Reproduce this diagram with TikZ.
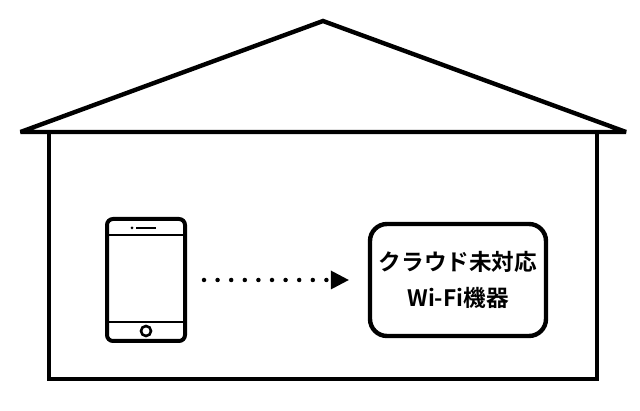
\documentclass[tikz,border=0pt]{standalone}
\usepackage{fontspec}
\newfontfamily\cjk{Noto Sans CJK JP}[BoldFont={* Bold}]
\usetikzlibrary{arrows.meta}
\tikzset{
	house/.style={line width=4.4pt, line join=miter, miter limit=4},
	phonebody/.style={draw, line width=4pt, rounded corners=6pt, minimum width=78pt, minimum height=122pt, inner sep=0pt},
	phonepart/.style={line width=2.8pt},
	devicebox/.style={draw, line width=4.4pt, rounded corners=17pt, minimum width=176pt, minimum height=112pt, inner sep=0pt, align=center, font=\cjk\bfseries\fontsize{22.6}{36}\selectfont},
	dots/.style={line width=4.5pt, line cap=round, dash pattern=on 0pt off 13.6pt, -{Triangle[length=18pt,width=19pt,line width=0pt,sep=0pt]}},
}
\begin{document}
\begin{tikzpicture}[x=1pt,y=-1pt]
		\useasboundingbox (0,0) rectangle (640,411);
		\fill[white] (0,0) rectangle (640,411);
		% house
		\coordinate(L) at (20.5,132);
		\coordinate(R) at (626,132);
		\draw[house] (L) -- (323,21) -- (R) -- cycle;
		\draw[house] (49,132) -- (49,379) -- (597,379) -- (597,132);
		% phone
		\node[phonebody] (phone) at (146,280) {};
		\draw[phonepart] (phone.west |- 0,235) -- (phone.east |- 0,235);
		\draw[phonepart] (phone.west |- 0,322) -- (phone.east |- 0,322);
		\draw[line width=2.2pt] (136,228) -- (156,228);
		\fill (132,228) circle (1.5);
		\draw[line width=2.6pt] (146,331) circle (5);
		% device
		\node[devicebox] (device) at (458,280) {クラウド未対応\\Wi-Fi機器};
		\draw[dots, shorten <=17pt, shorten >=19pt] (phone) -- (device);
	\end{tikzpicture}
\end{document}
